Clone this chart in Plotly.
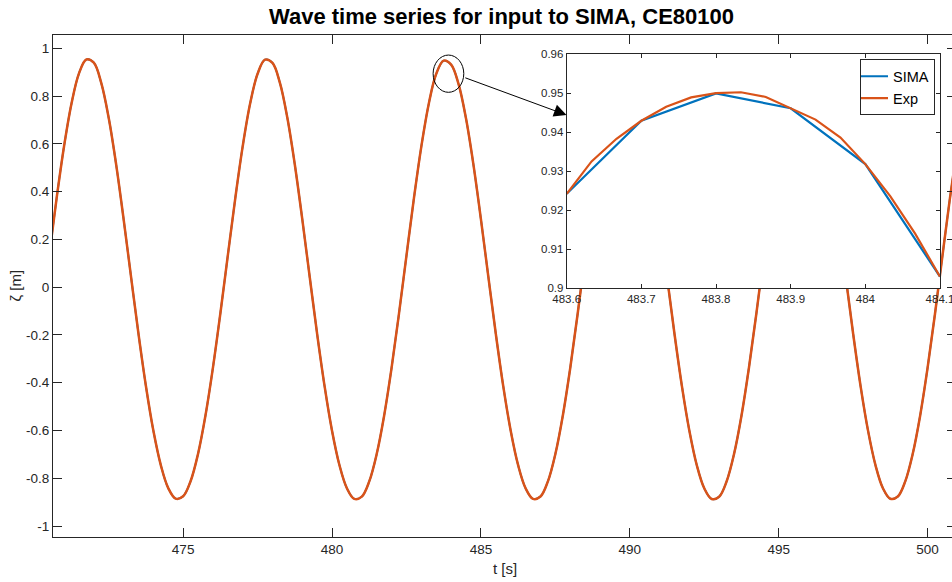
import plotly.graph_objects as go

# ---------------- data ----------------
t_main = [
    470.5, 470.75, 471.0, 471.25, 471.5, 471.75, 472.0, 472.25, 472.5, 472.75, 473.0, 473.25,
    473.5, 473.75, 474.0, 474.25, 474.5, 474.75, 475.0, 475.25, 475.5, 475.75, 476.0, 476.25,
    476.5, 476.75, 477.0, 477.25, 477.5, 477.75, 478.0, 478.25, 478.5, 478.75, 479.0, 479.25,
    479.5, 479.75, 480.0, 480.25, 480.5, 480.75, 481.0, 481.25, 481.5, 481.75, 482.0, 482.25,
    482.5, 482.75, 483.0, 483.25, 483.5, 483.75, 484.0, 484.25, 484.5, 484.75, 485.0, 485.25,
    485.5, 485.75, 486.0, 486.25, 486.5, 486.75, 487.0, 487.25, 487.5, 487.75, 488.0, 488.25,
    488.5, 488.75, 489.0, 489.25, 489.5, 489.75, 490.0, 490.25, 490.5, 490.75, 491.0, 491.25,
    491.5, 491.75, 492.0, 492.25, 492.5, 492.75, 493.0, 493.25, 493.5, 493.75, 494.0, 494.25,
    494.5, 494.75, 495.0, 495.25, 495.5, 495.75, 496.0, 496.25, 496.5, 496.75, 497.0, 497.25,
    497.5, 497.75, 498.0, 498.25, 498.5, 498.75, 499.0, 499.25, 499.5, 499.75, 500.0, 500.25,
    500.5, 500.75, 501.0,
]

exp_main = [
    0.1318, 0.3710, 0.5892, 0.7683, 0.8945, 0.9535, 0.9400, 0.8552, 0.7094, 0.5142, 0.2863, 0.0441,
    -0.1946, -0.4138, -0.6004, -0.7449, -0.8412, -0.8853, -0.8755, -0.8124, -0.6982, -0.5376, -0.3379, -0.1101,
    0.1320, 0.3712, 0.5895, 0.7688, 0.8935, 0.9528, 0.9392, 0.8556, 0.7092, 0.5138, 0.2858, 0.0436,
    -0.1952, -0.4144, -0.6010, -0.7456, -0.8420, -0.8866, -0.8768, -0.8133, -0.6988, -0.5380, -0.3381, -0.1100,
    0.1325, 0.3716, 0.5898, 0.7686, 0.8935, 0.9485, 0.9318, 0.8500, 0.7060, 0.5120, 0.2850, 0.0435,
    -0.1950, -0.4142, -0.6008, -0.7453, -0.8418, -0.8862, -0.8766, -0.8130, -0.6986, -0.5380, -0.3382, -0.1102,
    0.1322, 0.3714, 0.5894, 0.7686, 0.8932, 0.9520, 0.9388, 0.8554, 0.7096, 0.5140, 0.2860, 0.0438,
    -0.1950, -0.4142, -0.6008, -0.7455, -0.8420, -0.8868, -0.8772, -0.8136, -0.6990, -0.5382, -0.3383, -0.1103,
    0.1319, 0.3711, 0.5893, 0.7684, 0.8930, 0.9516, 0.9385, 0.8553, 0.7095, 0.5141, 0.2861, 0.0440,
    -0.1948, -0.4140, -0.6006, -0.7451, -0.8416, -0.8860, -0.8764, -0.8130, -0.6986, -0.5379, -0.3380, -0.1102,
    0.1325, 0.3718, 0.5900,
]

sima_main = [
    0.1318, 0.3710, 0.5892, 0.7683, 0.8945, 0.9535, 0.9400, 0.8552, 0.7094, 0.5142, 0.2863, 0.0441,
    -0.1946, -0.4138, -0.6004, -0.7449, -0.8412, -0.8853, -0.8755, -0.8124, -0.6982, -0.5376, -0.3379, -0.1101,
    0.1320, 0.3712, 0.5895, 0.7688, 0.8935, 0.9528, 0.9392, 0.8556, 0.7092, 0.5138, 0.2858, 0.0436,
    -0.1952, -0.4144, -0.6010, -0.7456, -0.8420, -0.8866, -0.8768, -0.8133, -0.6988, -0.5380, -0.3381, -0.1100,
    0.1325, 0.3716, 0.5898, 0.7686, 0.8935, 0.9485, 0.9318, 0.8500, 0.7060, 0.5120, 0.2850, 0.0435,
    -0.1950, -0.4142, -0.6008, -0.7453, -0.8418, -0.8862, -0.8766, -0.8130, -0.6986, -0.5380, -0.3382, -0.1102,
    0.1322, 0.3714, 0.5894, 0.7686, 0.8932, 0.9520, 0.9388, 0.8554, 0.7096, 0.5140, 0.2860, 0.0438,
    -0.1950, -0.4142, -0.6008, -0.7455, -0.8420, -0.8868, -0.8772, -0.8136, -0.6990, -0.5382, -0.3383, -0.1103,
    0.1319, 0.3711, 0.5893, 0.7684, 0.8930, 0.9516, 0.9385, 0.8553, 0.7095, 0.5141, 0.2861, 0.0440,
    -0.1948, -0.4140, -0.6006, -0.7451, -0.8416, -0.8860, -0.8764, -0.8130, -0.6986, -0.5379, -0.3380, -0.1102,
    0.1325, 0.3718, 0.5900,
]

# zoomed detail around the crest near t = 483.8 s
t_sima_zoom = [483.6, 483.7, 483.8, 483.9, 484.0, 484.1]
sima_zoom = [0.9242, 0.9429, 0.9499, 0.9461, 0.9318, 0.9030]

t_exp_zoom = [483.6, 483.6333, 483.6667, 483.7, 483.7333, 483.7667, 483.8, 483.8333,
              483.8667, 483.9, 483.9333, 483.9667, 484.0, 484.0333, 484.0667, 484.1]
exp_zoom = [0.9242, 0.9325, 0.9383, 0.9429, 0.9465, 0.9489, 0.9500, 0.9502,
            0.9490, 0.9462, 0.9432, 0.9386, 0.9318, 0.9236, 0.9140, 0.9030]

main_xticks = [475, 480, 485, 490, 495, 500]
main_yticks = [-1, -0.8, -0.6, -0.4, -0.2, 0, 0.2, 0.4, 0.6, 0.8, 1]
main_ytick_labels = ["-1", "-0.8", "-0.6", "-0.4", "-0.2", "0", "0.2", "0.4", "0.6", "0.8", "1"]
inset_xticks = [483.6, 483.7, 483.8, 483.9, 484.0, 484.1]
inset_xtick_labels = ["483.6", "483.7", "483.8", "483.9", "484", "484.1"]
inset_yticks = [0.9, 0.91, 0.92, 0.93, 0.94, 0.95, 0.96]
inset_ytick_labels = ["0.9", "0.91", "0.92", "0.93", "0.94", "0.95", "0.96"]

# ---------------- styling ----------------
BLUE = "#0072BD"
ORANGE = "#D95319"
AX = "#262626"
FONT = "Liberation Sans, Arial, Helvetica, sans-serif"

W, H = 952, 582
ML, MR, MT, MB = 53, 0, 35, 45

fig = go.Figure()

fig.add_trace(go.Scatter(x=t_main, y=sima_main, mode="lines", name="SIMA",
                         line=dict(color=BLUE, width=1.8, shape="spline"),
                         showlegend=False, hoverinfo="skip", xaxis="x", yaxis="y"))
fig.add_trace(go.Scatter(x=t_main, y=exp_main, mode="lines", name="Exp",
                         line=dict(color=ORANGE, width=2.5, shape="spline"),
                         showlegend=False, hoverinfo="skip", xaxis="x", yaxis="y"))
# empty trace to carry the right-hand tick axis
fig.add_trace(go.Scatter(x=[], y=[], mode="lines", showlegend=False,
                         hoverinfo="skip", xaxis="x", yaxis="y3"))

fig.add_trace(go.Scatter(x=t_sima_zoom, y=sima_zoom, mode="lines", name="SIMA",
                         line=dict(color=BLUE, width=2.2), xaxis="x2", yaxis="y2"))
fig.add_trace(go.Scatter(x=t_exp_zoom, y=exp_zoom, mode="lines", name="Exp",
                         line=dict(color=ORANGE, width=2.2), xaxis="x2", yaxis="y2"))

xr = [470.63, 500.82]
yr = [-1.046, 1.056]

common = dict(showgrid=False, zeroline=False, ticks="inside", tickcolor=AX,
              linecolor=AX, linewidth=1, tickwidth=1, automargin=False)

# inset placement (paper fractions)
pw = W - ML - MR
ph = H - MT - MB
ix0 = (566.7 - ML) / pw
ix1 = (940.0 - ML) / pw
iy0 = (H - MB - 288.3) / ph
iy1 = (H - MB - 54.0) / ph

fig.update_layout(
    width=W, height=H,
    margin=dict(l=ML, r=MR, t=MT, b=MB, pad=0, autoexpand=False),
    paper_bgcolor="white", plot_bgcolor="white",
    font=dict(family=FONT, color=AX),
    title=dict(text="<b>Wave time series for input to SIMA, CE80100</b>",
               x=(501.5 - ML) / pw, xref="paper", xanchor="center",
               y=1 - 16 / H, yref="container", yanchor="middle",
               font=dict(family=FONT, size=22, color="black")),
    xaxis=dict(domain=[0, 1], range=xr, tickvals=main_xticks, ticklen=9,
               showline=True, mirror="ticks", anchor="y",
               tickfont=dict(size=13.5, color=AX), **common),
    yaxis=dict(domain=[0, 1], range=yr, tickvals=main_yticks, ticktext=main_ytick_labels,
               ticklen=9, showline=True, mirror=False, anchor="x",
               tickfont=dict(size=13.5, color=AX), **common),
    yaxis3=dict(overlaying="y", side="right", anchor="x", range=yr, tickvals=main_yticks,
                ticklen=5, showline=False, showticklabels=False, automargin=False,
                showgrid=False, zeroline=False, ticks="inside", tickcolor=AX, tickwidth=1),
    xaxis2=dict(domain=[ix0, ix1], range=[483.6, 484.10002], anchor="y2",
                tickvals=inset_xticks, ticktext=inset_xtick_labels, ticklen=4,
                ticklabeloverflow="allow",
                showline=True, mirror="ticks", tickfont=dict(size=11.5, color=AX), **common),
    yaxis2=dict(domain=[iy0, iy1], range=[0.9, 0.96], anchor="x2",
                tickvals=inset_yticks, ticktext=inset_ytick_labels, ticklen=4,
                showline=True, mirror="ticks", tickfont=dict(size=11.5, color=AX), **common),
    legend=dict(x=(935 - ML) / pw, xanchor="right", y=(H - MB - 59.3) / ph, yanchor="top",
                bgcolor="white", bordercolor=AX, borderwidth=1,
                font=dict(family=FONT, size=14.5, color="black"),
                tracegroupgap=0, indentation=-8, itemwidth=30),
    showlegend=True,
)

# callout circle around the crest and arrow to the inset
fig.add_shape(type="circle", xref="x", yref="y",
              x0=483.395, x1=484.425, y0=0.816, y1=0.972,
              line=dict(color="black", width=1), layer="above")

fig.add_annotation(x=487.874, y=0.7211, xref="x", yref="y",
                   ax=484.426, ay=0.879, axref="x", ayref="y",
                   text="", showarrow=True, arrowhead=2, arrowsize=2.5,
                   arrowwidth=1, arrowcolor="black", standoff=0, startstandoff=0)

# axis titles
fig.add_annotation(text="t [s]", xref="paper", yref="paper",
                   x=(505 - ML) / pw, y=(H - MB - 568) / ph,
                   xanchor="center", yanchor="middle", showarrow=False,
                   font=dict(family=FONT, size=15, color=AX))
fig.add_annotation(text="ζ [m]", xref="paper", yref="paper",
                   x=(14.5 - ML) / pw, y=0.5, textangle=-90,
                   xanchor="center", yanchor="middle", showarrow=False,
                   font=dict(family=FONT, size=15, color=AX))

fig.write_html("out.html")
